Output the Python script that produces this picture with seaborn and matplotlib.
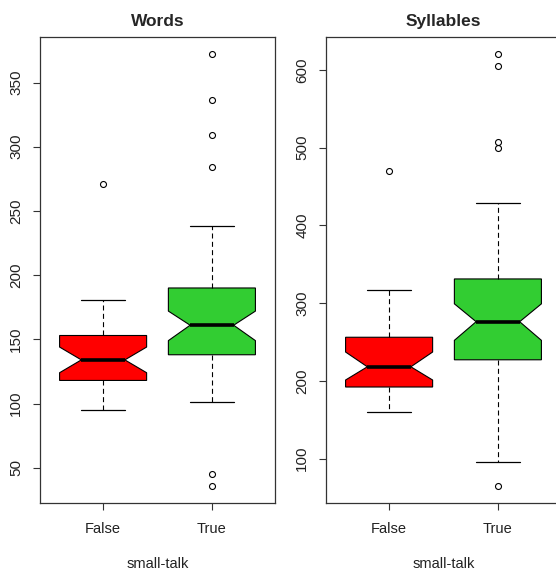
import matplotlib
matplotlib.use("Agg")
import matplotlib.pyplot as plt
import seaborn as sns

sns.set_style("white")
plt.rcParams['font.family'] = ['Liberation Sans', 'DejaVu Sans']

groups = ["False", "True"]
box_colors = ["#FF0000", "#32CD32"]

# Words: summary stats
words_whislo = [95, 101]
words_q1 = [118, 138]
words_med = [134, 161]
words_q3 = [153, 190]
words_whishi = [181, 238]
words_cilo = [124, 149]
words_cihi = [144, 172]
words_fliers = [[271], [372, 336, 309, 284, 45, 36]]

# Syllables
syl_whislo = [160, 96]
syl_q1 = [192, 227]
syl_med = [218, 276]
syl_q3 = [256, 331]
syl_whishi = [317, 429]
syl_cilo = [201, 252]
syl_cihi = [237, 299]
syl_fliers = [[470], [620, 605, 507, 500, 65]]


def make_stats(whislo, q1, med, q3, whishi, cilo, cihi, fliers):
    stats = []
    for i, g in enumerate(groups):
        stats.append(dict(label=g, whislo=whislo[i], q1=q1[i], med=med[i], q3=q3[i],
                          whishi=whishi[i], cilo=cilo[i], cihi=cihi[i], fliers=fliers[i]))
    return stats


def draw_panel(ax, stats, title, yticks):
    bp = ax.bxp(stats, positions=[1, 2], widths=0.8, shownotches=True, patch_artist=True,
                showfliers=True,
                boxprops=dict(edgecolor="black", linewidth=0.8),
                whiskerprops=dict(color="black", linewidth=0.8, linestyle=(0, (4.5, 3))),
                capprops=dict(color="black", linewidth=0.9),
                medianprops=dict(color="black", linewidth=2.6),
                flierprops=dict(marker="o", markerfacecolor="none", markeredgecolor="black",
                                markersize=4.3, markeredgewidth=0.8))
    for patch, c in zip(bp["boxes"], box_colors):
        patch.set_facecolor(c)
    lo = min(min(s["whislo"], *s["fliers"]) for s in stats)
    hi = max(max(s["whishi"], *s["fliers"]) for s in stats)
    pad = (hi - lo) * 0.04
    ax.set_ylim(lo - pad, hi + pad)
    ax.set_xlim(0.42, 2.58)
    ax.set_yticks(yticks)
    ax.set_xticks([1, 2])
    ax.set_xticklabels(groups)
    ax.tick_params(axis="both", length=5, width=0.8, color="#333333", labelsize=10.5,
                   labelcolor="#222222", left=True, bottom=True, pad=8)
    ax.tick_params(axis="x", pad=9)
    ax.tick_params(axis="y", labelrotation=90, labelsize=11, pad=7)
    for lab in ax.get_yticklabels():
        lab.set_va("center")
    for sp in ax.spines.values():
        sp.set_color("#333333")
        sp.set_linewidth(0.9)
    ax.set_title(title, fontsize=12.5, fontweight="bold", pad=8)
    ax.set_xlabel("small-talk", fontsize=10.5, labelpad=15, color="#222222")


fig = plt.figure(figsize=(5.56, 5.71), dpi=100)
ax1 = fig.add_axes([40 / 556, 1 - 503 / 571, 235 / 556, 466 / 571])
ax2 = fig.add_axes([326 / 556, 1 - 503 / 571, 235 / 556, 466 / 571])

draw_panel(ax1, make_stats(words_whislo, words_q1, words_med, words_q3, words_whishi,
                           words_cilo, words_cihi, words_fliers),
           "Words", [50, 100, 150, 200, 250, 300, 350])
draw_panel(ax2, make_stats(syl_whislo, syl_q1, syl_med, syl_q3, syl_whishi,
                           syl_cilo, syl_cihi, syl_fliers),
           "Syllables", [100, 200, 300, 400, 500, 600])

fig.savefig("out.png", dpi=100)
